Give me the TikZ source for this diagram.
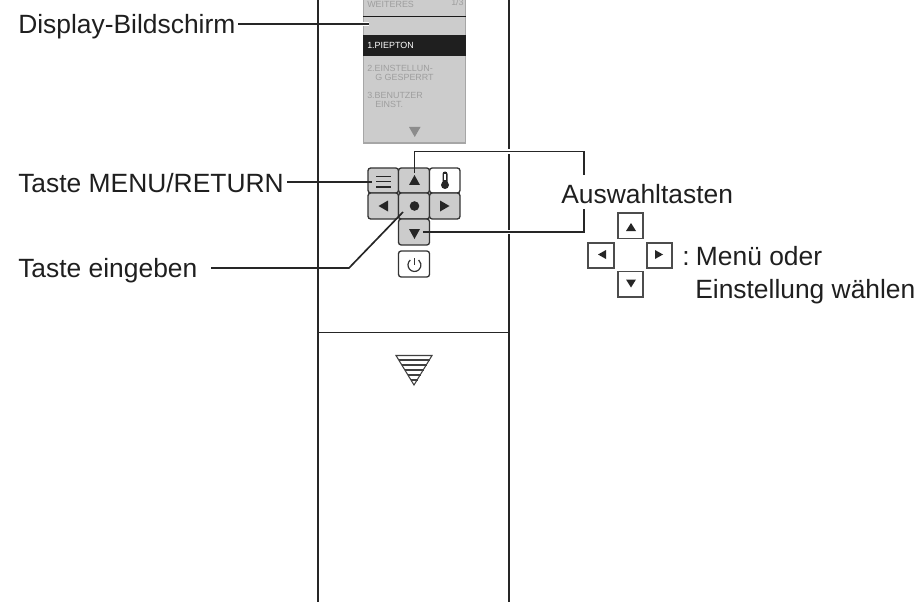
\documentclass[tikz,border=0pt]{standalone}
\usepackage{fontspec}
\setmainfont{Liberation Sans}
\begin{document}
\begin{tikzpicture}[x=0.75pt,y=-0.75pt,
  lbl/.style={inner sep=0pt,anchor=base west,font=\fontsize{19.8}{23}\selectfont,text=black!88},
  dsp/.style={inner sep=0pt,anchor=base west,align=left,font=\fontsize{6.7}{6.75}\selectfont,text=black!38},
  ink/.style={draw=black!85,line width=0.9pt},
  lead/.style={draw=black!85,line width=1.25pt},
  halo/.style={draw=white,line width=3.4pt},
  tri/.style={fill=black!85,draw=none},
  key/.style={draw=black!80,line width=1pt,fill=black!20,rounded corners=2pt},
  skey/.style={draw=black!70,line width=1pt,fill=white}]
\useasboundingbox (0,0) rectangle (919,602);
% body
\draw[ink] (318,0) -- (318,602);
\draw[ink] (509,0) -- (509,602);
\draw[ink,line width=0.7pt] (318,332) -- (509,332);
% display
\fill[black!20] (363,0) rectangle (466,143);
\draw[black!35,line width=0.8pt] (363.5,0) -- (363.5,143) -- (465.5,143) -- (465.5,0);
\draw[black!90,line width=0.7pt] (363,16) -- (466,16);
\fill[black!88] (363,35) rectangle (466,56.5);
\node[dsp] (t0) at (367,8) {WEITERES};
\node[dsp] (t00) at (451,6) {1/3};
\node[dsp,text=white] (t1) at (367,49) {1.PIEPTON};
\node[dsp] (t2) at (367,81) {2.EINSTELLUN-\\\hspace*{6pt}G GESPERRT};
\node[dsp] (t3) at (367,108) {3.BENUTZER\\\hspace*{6pt}EINST.};
\fill[black!45] (409,127) -- (420.5,127) -- (414.75,137) -- cycle;
% keypad
\draw[key] (368,168) rectangle (398.5,193);
\draw[key] (398.5,168) rectangle (429.5,193);
\draw[key,fill=white] (429.5,168) rectangle (460,193);
\draw[key] (368,193) rectangle (398.5,219);
\draw[key] (398.5,193) rectangle (429.5,219);
\draw[key] (429.5,193) rectangle (460,219);
\draw[key] (398.5,219) rectangle (429.5,245);
\draw[key,fill=white] (398.5,251) rectangle (429.5,277);
% key glyphs
\draw[black!85,line width=1.4pt] (376,176.5) -- (391,176.5) (376,181.5) -- (391,181.5) (376,187) -- (391,187);
\fill[tri] (409,185) -- (420,185) -- (414.5,175) -- cycle;
\fill[tri] (378.5,206) -- (388,200.5) -- (388,211.5) -- cycle;
\fill[tri] (449.5,206) -- (440,200.5) -- (440,211.5) -- cycle;
\fill[tri] (409,229) -- (420,229) -- (414.5,239) -- cycle;
\fill[black!85] (414.5,206) circle (4.8);
% thermometer
\fill[black!85] (442.5,183) -- (442.5,174) arc[start angle=180,end angle=360,radius=2.5] -- (447.5,183) -- cycle;
\fill[white] (444.2,180) rectangle (445.8,174.5);
\fill[black!85] (445,185) circle (4);
% power
\draw[black!80,line width=0.9pt] (410.3,260) arc[start angle=-130,end angle=-410,radius=6.5];
\draw[black!80,line width=0.9pt] (414.5,258) -- (414.5,265);
% connector ends
\coordinate (dA) at (238,24);
\coordinate (dB) at (369,24);
\coordinate (mA) at (287,182);
\coordinate (mB) at (372,182);
\coordinate (eA) at (211,268);
\coordinate (eB) at (349,268);
\coordinate (eC) at (403,212);
\coordinate (uA) at (414.5,173);
\coordinate (uB) at (414.5,151.5);
\coordinate (uC) at (584,151.5);
\coordinate (uD) at (584,175);
\coordinate (lA) at (423,232);
\coordinate (lB) at (584,232);
\coordinate (lC) at (584,209);
% white halos where leaders cross
\draw[halo] (450,232) -- (520,232);
\draw[halo] (500,151.5) -- (520,151.5);
\draw[halo,line width=2.5pt] (362,24) -- (369,24);
\draw[lead] (dA) -- (dB);
\draw[lead] (mA) -- (mB);
\draw[lead] (eA) -- (eB) -- (eC);
\draw[lead] (uA) -- (uB) -- (uC) -- (uD);
\draw[lead] (lA) -- (lB) -- (lC);
% labels
\node[lbl] (l1) at (18,34) {Display-Bildschirm};
\node[lbl] (l2) at (18,192.5) {Taste MENU/RETURN};
\node[lbl] (l3) at (18,277.5) {Taste eingeben};
\node[lbl] (l4) at (561,204) {Auswahltasten};
\node[lbl] (l5) at (682,265) {:\kern 4.75pt Menü oder};
\node[lbl] (l6) at (695,298) {Einstellung wählen};
% small keys
\draw[skey] (618,213) rectangle (643,238.5);
\draw[skey] (588,243) rectangle (614,268);
\draw[skey] (647,243) rectangle (672,268);
\draw[skey] (618,271.5) rectangle (643,297);
\fill[tri] (626,231) -- (636,231) -- (631,223) -- cycle;
\fill[tri] (598,254.5) -- (606,250) -- (606,259) -- cycle;
\fill[tri] (663,254.5) -- (655,250) -- (655,259) -- cycle;
\fill[tri] (626,279.5) -- (636,279.5) -- (631,287.5) -- cycle;
% filter symbol
\draw[black!75,line width=0.8pt,fill=white] (396,355.5) -- (432,355.5) -- (414,385) -- cycle;
\foreach \yy/\hw in {360/15.5,365/12.5,370/9.5,375/6.5,380/3.5}{
  \draw[black!75,line width=0.8pt] (414-\hw,\yy) -- (414+\hw,\yy);}
\end{tikzpicture}
\end{document}
